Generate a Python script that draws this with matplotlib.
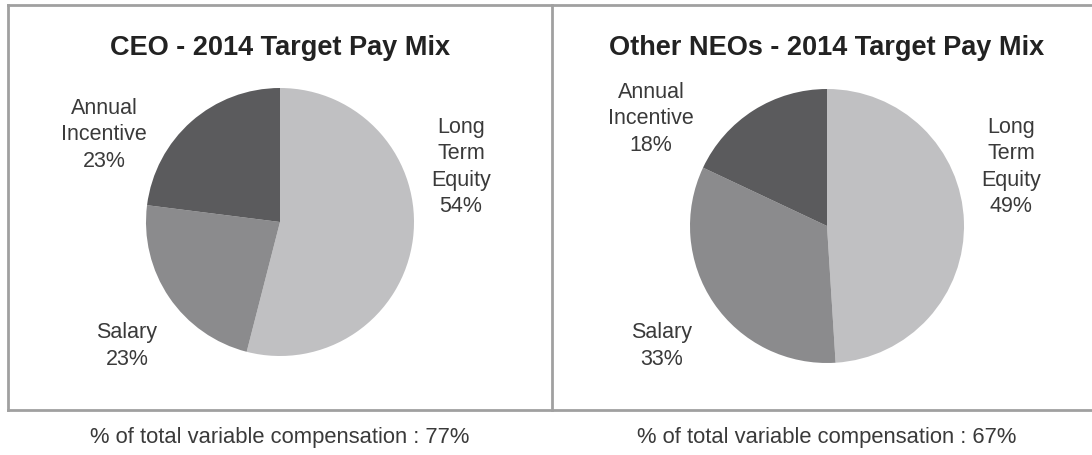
import matplotlib
matplotlib.use('Agg')
import matplotlib.pyplot as plt
from matplotlib.lines import Line2D

plt.rcParams['font.family'] = ['Liberation Sans', 'DejaVu Sans']

# datos de los dos graficos
titulos = ['CEO - 2014 Target Pay Mix', 'Other NEOs - 2014 Target Pay Mix']
categorias = ['Long\nTerm\nEquity', 'Salary', 'Annual\nIncentive']
ceo = [54, 23, 23]
otros = [49, 33, 18]
variable = [77, 67]
colores = ['#c0c0c2', '#8b8b8d', '#5b5b5d']

W, H = 1092, 455
fig = plt.figure(figsize=(W / 100, H / 100), dpi=100)
ax = fig.add_axes([0, 0, 1, 1])
ax.set_xlim(0, W)
ax.set_ylim(0, H)
ax.set_aspect('equal')
ax.axis('off')

def py(y):
    # pixel desde arriba -> coordenada y
    return H - y

# marcos
gris = '#a0a0a0'
for xs, ys in [([8, 1092], [5, 5]), ([8, 1092], [410, 410]),
               ([8, 8], [5, 410]), ([552, 552], [5, 410])]:
    ax.add_line(Line2D(xs, [py(v) for v in ys], color=gris, lw=2))

centros = [(280, 222, 134), (827, 226, 137)]
# posicion de etiquetas (LTE, Salary, Annual)
pos_etiquetas = [[(461, 167), (127, 346), (104, 135)],
                 [(1011, 167), (662, 346), (651, 119)]]

for i, valores in enumerate([ceo, otros]):
    cx, cy, r = centros[i]
    ax.pie(valores, colors=colores, startangle=90, counterclock=False,
           center=(cx, py(cy)), radius=r, frame=True,
           wedgeprops=dict(linewidth=0))
    ax.text(cx, py(48), titulos[i], ha='center', va='center',
            fontsize=19.5, fontweight='bold', color='#222222')
    for j, (lx, ly) in enumerate(pos_etiquetas[i]):
        ax.text(lx, py(ly), f'{categorias[j]}\n{valores[j]}%', ha='center',
                va='center', fontsize=15.5, color='#3a3a3a', linespacing=1.33)
    ax.text(cx, py(437), f'% of total variable compensation : {variable[i]}%',
            ha='center', va='center', fontsize=15.8, color='#3a3a3a')

ax.set_xlim(0, W)
ax.set_ylim(0, H)
ax.axis('off')
plt.savefig('out.png', dpi=100)
